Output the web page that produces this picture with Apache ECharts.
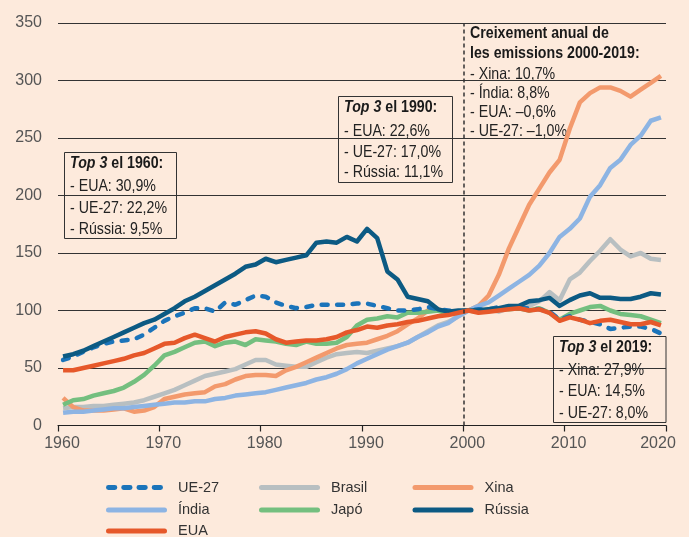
<!DOCTYPE html>
<html>
<head>
<meta charset="utf-8">
<script src="https://cdn.jsdelivr.net/npm/echarts@6.0.0/dist/echarts.min.js"></script>
<style>
html,body{margin:0;padding:0;background:#fdeadc;}
#chart{width:689px;height:537px;}
</style>
</head>
<body>
<div id="chart"></div>
<script>
// ---- data (index 2000 = 100), years 1960-2019 ----
const years = [];
for (let y = 1960; y <= 2019; y++) years.push(String(y));

const ue27   = [57,60,64,68,71,73,74,75,79,85, 91,95,98,102,102,99,107,105,109,113, 112,107,104,102,103,105,105,105,105,106, 106,104,102,100,100,101,103,101,100,99, 100,101,101,103,103,102,102,101,99,92, 95,92,90,88,84,85,86,86,84,80];
const india  = [11,12,12,13,14,15,15,16,17,18, 19,20,20,21,21,23,24,26,27,28, 29,31,33,35,37,40,42,45,49,54, 58,62,66,69,72,77,81,86,89,95, 100,104,107,113,119,125,131,139,150,164, 171,180,199,209,224,231,244,252,265,268];
const eua    = [48,48,50,52,54,56,58,61,63,67, 71,72,76,79,76,73,77,79,81,82, 80,75,72,73,74,74,75,77,81,83, 86,85,87,88,90,91,93,95,96,98, 100,98,99,100,101,102,100,101,98,91, 94,92,89,91,92,90,88,88,90,87];
const brasil = [15,16,16,17,17,18,19,20,22,25, 28,31,35,39,43,45,47,49,53,57, 57,53,52,51,51,55,59,62,63,64, 63,65,67,69,72,77,82,87,90,95, 100,102,101,99,102,103,104,108,116,109, 127,133,143,152,162,153,147,150,145,144];
const japo   = [18,22,23,26,28,30,33,38,44,52, 61,64,68,72,73,69,72,73,70,75, 74,73,71,70,73,71,71,72,77,87, 92,93,95,94,98,98,99,100,97,99, 100,99,101,102,101,102,100,102,98,92, 97,100,103,104,100,97,96,95,92,89];
const xina   = [24,16,13,13,13,14,15,12,13,16, 23,25,27,28,29,34,36,40,43,44, 44,43,48,51,55,59,63,67,70,71, 72,75,78,82,88,93,100,101,98,98, 100,104,113,131,154,173,192,206,220,231, 258,281,289,294,294,291,286,292,298,304];
const russia = [60,62,65,69,73,77,81,85,89,92, 97,102,108,112,117,122,127,132,138,140, 145,142,144,146,148,159,160,159,164,160, 171,163,134,127,112,110,108,101,99,100, 100,100,101,102,104,104,108,109,111,104, 109,113,115,111,111,110,110,112,115,114];

const yTicks = [0,50,100,150,200,250,300,350];
const xTicks = [1960,1970,1980,1990,2000,2010,2020];

const box1960 = ['- EUA: 30,9%', '- UE-27: 22,2%', '- Rússia: 9,5%'];
const box1990 = ['- EUA: 22,6%', '- UE-27: 17,0%', '- Rússia: 11,1%'];
const box2019 = ['- Xina: 27,9%', '- EUA: 14,5%', '- UE-27: 8,0%'];
const growthTitle = ['Creixement anual de', 'les emissions 2000-2019:'];
const growth = ['- Xina: 10,7%', '- Índia: 8,8%', '- EUA: –0,6%', '- UE-27: –1,0%'];

// ---- styles ----
const BG = '#fdeadc';
const FONT = "'Liberation Sans',Arial,sans-serif";
const SX = 0.86; // horizontal squeeze to mimic a condensed humanist face
const colors = {
  'UE-27': '#1b74ba', 'Índia': '#8db4e3', 'EUA': '#e6582a',
  'Brasil': '#b8bfc1', 'Japó': '#74bf7f', 'Xina': '#f39a6d', 'Rússia': '#0c5a83'
};

function mk(name, data, dashed) {
  return {
    name: name, type: 'line', data: data, xAxisIndex: 0, yAxisIndex: 0,
    symbol: 'none', showSymbol: false, silent: true,
    lineStyle: dashed ? {width: 4.5, color: colors[name], type: [6, 9.5], cap: 'round'}
                      : {width: 4.5, color: colors[name], join: 'round'},
    itemStyle: {color: colors[name]},
    emphasis: {disabled: true}
  };
}

function txt(x, y, text, bold) {
  return {
    type: 'text', x: x, y: y, scaleX: SX,
    style: {text: text, verticalAlign: 'middle', fontFamily: FONT, fontSize: 16.5,
            fontWeight: bold ? 'bold' : 'normal', fill: bold ? '#1a1a1a' : '#222'}
  };
}

function boxGroup(x, y, w, h, titleYear, lines, titleDy, lineYs) {
  const children = [{
    type: 'rect', shape: {x: x, y: y, width: w, height: h},
    style: {fill: BG, stroke: '#333', lineWidth: 1}
  }, {
    type: 'text', x: x + 5.5, y: y + titleDy, scaleX: SX,
    style: {
      text: '{bi|Top 3}{b| el ' + titleYear + ':}',
      verticalAlign: 'middle',
      rich: {
        bi: {fontFamily: FONT, fontSize: 16.5, fontWeight: 'bold', fontStyle: 'italic', fill: '#1a1a1a'},
        b: {fontFamily: FONT, fontSize: 16.5, fontWeight: 'bold', fill: '#1a1a1a'}
      }
    }
  }];
  lines.forEach((t, i) => children.push(txt(x + 5.5, y + lineYs[i], t, false)));
  return {type: 'group', children: children, z: 100};
}

const graphics = [
  boxGroup(64.5, 152.5, 112, 86, 1960, box1960, 11, [33.5, 55.5, 77]),
  boxGroup(338.5, 96.5, 114, 86, 1990, box1990, 10.5, [34.5, 55.5, 76]),
  boxGroup(553.5, 336.5, 112.5, 86, 2019, box2019, 11, [33.5, 55, 77])
];
const gChildren = [];
growthTitle.forEach((t, i) => gChildren.push(txt(470, 33.5 + i * 20, t, true)));
growth.forEach((t, i) => gChildren.push(txt(470, 74 + i * 19, t, false)));
graphics.push({type: 'group', children: gChildren, z: 100});

// legend icons: rounded bars (dashed for UE-27)
function barPath(segs) {
  return 'path://' + segs.map(([a, b]) =>
    'M' + (a + 2.5) + ',0H' + (b - 2.5) + 'A2.5,2.5 0 0 1 ' + (b - 2.5) + ',5H' + (a + 2.5) +
    'A2.5,2.5 0 0 1 ' + (a + 2.5) + ',0Z').join('');
}
const solidIcon = barPath([[0, 61]]);
const dashIcon = barPath([[0, 11.5], [15.5, 27], [31, 42.5], [46.5, 58]]);

const legendSlots = [
  ['UE-27', 0, 0], ['Brasil', 1, 0], ['Xina', 2, 0],
  ['Índia', 0, 1], ['Japó', 1, 1], ['Rússia', 2, 1],
  ['EUA', 0, 2]
];
const colLeft = [106, 259, 412.5];
const rowMid = [487.5, 510, 531];
const legends = legendSlots.map(([name, c, r]) => ({
  left: colLeft[c], top: rowMid[r] - 8, padding: 0,
  itemWidth: name === 'UE-27' ? 57 : 61, itemHeight: 5, selectedMode: false,
  icon: name === 'UE-27' ? dashIcon : solidIcon,
  data: [name],
  textStyle: {fontFamily: FONT, fontSize: 14.5, lineHeight: 16, color: '#333',
              padding: [0, 0, 0, name === 'UE-27' ? 10 : 6]}
}));

const option = {
  backgroundColor: BG,
  animation: false,
  grid: {left: 58, right: 23, top: 23, bottom: 111.5, containLabel: false},
  xAxis: [{
    type: 'category', data: years, boundaryGap: true, show: false
  }, {
    type: 'value', position: 'bottom', min: xTicks[0], max: xTicks[xTicks.length - 1], interval: 10,
    axisLine: {show: true, lineStyle: {color: '#222', width: 1}},
    axisTick: {show: true, length: 6, lineStyle: {color: '#222', width: 1.2}},
    axisLabel: {color: '#555', fontFamily: FONT, fontSize: 16, margin: 10,
      formatter: v => (v === xTicks[xTicks.length - 1] ? '{e|' + v + '}' : '{n|' + v + '}'),
      rich: {
        n: {color: '#555', fontFamily: FONT, fontSize: 16, padding: [0, 0, 0, 8]},
        e: {color: '#555', fontFamily: FONT, fontSize: 16, padding: [0, 16, 0, 0]}
      }},
    splitLine: {show: false}
  }],
  yAxis: [{
    type: 'value', min: yTicks[0], max: yTicks[yTicks.length - 1], interval: 50,
    axisLine: {show: false}, axisTick: {show: false},
    axisLabel: {color: '#555', fontFamily: FONT, fontSize: 16, margin: 16},
    splitLine: {show: true, lineStyle: {color: '#333', width: 1}}
  }],
  legend: legends,
  series: [
    mk('Brasil', brasil), mk('Xina', xina), mk('Índia', india), mk('Japó', japo),
    mk('UE-27', ue27, true), mk('Rússia', russia), mk('EUA', eua),
    {
      name: 'ref2000', type: 'line', xAxisIndex: 1, yAxisIndex: 0, data: [], silent: true,
      markLine: {
        silent: true, symbol: 'none', label: {show: false},
        lineStyle: {color: '#333', width: 1.5, type: [4, 3]},
        data: [{xAxis: 2000}]
      }
    }
  ],
  graphic: graphics
};

const chart = echarts.init(document.getElementById('chart'), null, {renderer: 'canvas'});
chart.setOption(option);
</script>
</body>
</html>
